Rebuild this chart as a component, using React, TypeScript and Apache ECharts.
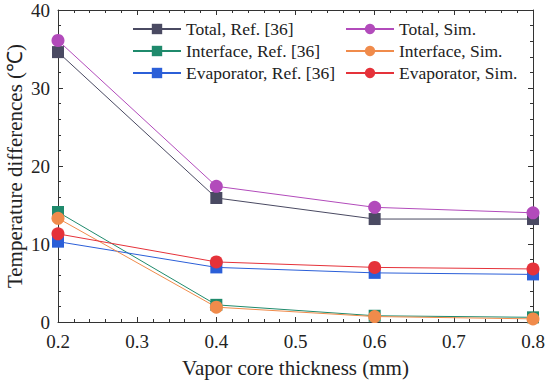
import React, { useEffect, useRef } from "react";
import * as echarts from "echarts";

const thickness = [0.2, 0.4, 0.6, 0.8];
const totalRef = [34.6, 15.9, 13.2, 13.2];
const totalSim = [36.1, 17.4, 14.7, 14.0];
const interfaceRef = [14.1, 2.2, 0.8, 0.6];
const interfaceSim = [13.3, 1.9, 0.7, 0.4];
const evapRef = [10.3, 7.0, 6.3, 6.1];
const evapSim = [11.3, 7.7, 7.0, 6.8];

const seriesNames = [
  "Total, Ref. [36]",
  "Interface, Ref. [36]",
  "Evaporator, Ref. [36]",
  "Total, Sim.",
  "Interface, Sim.",
  "Evaporator, Sim.",
];

const FONT = "Liberation Serif";

export default function App() {
  const ref = useRef<HTMLDivElement>(null);
  useEffect(() => {
    if (!ref.current) return;
    const chart = echarts.init(ref.current, undefined, { renderer: "svg" });
    const pts = (vals: number[]) => thickness.map((x, i) => [x, vals[i]]);
    const mk = (name: string, vals: number[], color: string, symbol: string, size: number) => ({
      name,
      type: "line",
      data: pts(vals),
      symbol,
      symbolSize: size,
      showSymbol: true,
      lineStyle: { color, width: 1 },
      itemStyle: { color, opacity: 1 },
      emphasis: { disabled: true },
    });
    const axisCommon = {
      axisLine: { show: true, onZero: false, lineStyle: { color: "#333", width: 1 } },
      axisTick: { show: true, inside: true, length: 5, lineStyle: { color: "#333" } },
      minorTick: { show: true, splitNumber: 5, length: 3, lineStyle: { color: "#333" } },
      splitLine: { show: false },
      minorSplitLine: { show: false },
    };
    const axisLabel = { color: "#222", fontFamily: FONT, fontSize: 19 };
    const legendText = { color: "#222", fontFamily: FONT, fontSize: 17.5 };
    chart.setOption({
      animation: false,
      backgroundColor: "#fff",
      textStyle: { fontFamily: FONT },
      grid: {
        left: 58,
        right: 17,
        top: 10,
        bottom: 60,
        containLabel: false,
        outerBoundsMode: "none",
      },
      legend: [
        {
          data: seriesNames.slice(0, 3),
          orient: "vertical",
          left: 127,
          top: 15,
          itemWidth: 48,
          itemHeight: 13,
          itemGap: 4,
          textStyle: legendText,
          selectedMode: false,
        },
        {
          data: seriesNames.slice(3),
          orient: "vertical",
          left: 340,
          top: 15,
          itemWidth: 48,
          itemHeight: 13,
          itemGap: 4,
          textStyle: legendText,
          selectedMode: false,
        },
      ],
      xAxis: [
        {
          ...axisCommon,
          type: "value",
          min: 0.2,
          max: 0.8,
          interval: 0.1,
          position: "bottom",
          name: "Vapor core thickness (mm)",
          nameLocation: "middle",
          nameGap: 35,
          nameMoveOverlap: false,
          nameTextStyle: { color: "#222", fontFamily: FONT, fontSize: 21 },
          axisLabel: { ...axisLabel, margin: 10, formatter: (v: number) => v.toFixed(1) },
        },
        {
          ...axisCommon,
          type: "value",
          min: 0.2,
          max: 0.8,
          interval: 0.1,
          position: "top",
          axisLabel: { show: false },
        },
      ],
      yAxis: [
        {
          ...axisCommon,
          type: "value",
          min: 0,
          max: 40,
          interval: 10,
          position: "left",
          name: "Temperature differences (℃)",
          nameLocation: "middle",
          nameGap: 33,
          nameMoveOverlap: false,
          nameTextStyle: { color: "#222", fontFamily: FONT, fontSize: 21 },
          axisLabel: { ...axisLabel, margin: 8 },
        },
        {
          ...axisCommon,
          type: "value",
          min: 0,
          max: 40,
          interval: 10,
          position: "right",
          axisLabel: { show: false },
        },
      ],
      series: [
        mk(seriesNames[0], totalRef, "#4a4a62", "rect", 12),
        mk(seriesNames[1], interfaceRef, "#1f8a6c", "rect", 12),
        mk(seriesNames[2], evapRef, "#2b5fd8", "rect", 12),
        mk(seriesNames[3], totalSim, "#b24bbb", "circle", 13),
        mk(seriesNames[4], interfaceSim, "#f08b4b", "circle", 13),
        mk(seriesNames[5], evapSim, "#e5323a", "circle", 13),
      ],
    });
    return () => chart.dispose();
  }, []);
  return (
    <div
      ref={ref}
      style={{ position: "fixed", left: 0, top: 0, width: 550, height: 382 }}
    />
  );
}
